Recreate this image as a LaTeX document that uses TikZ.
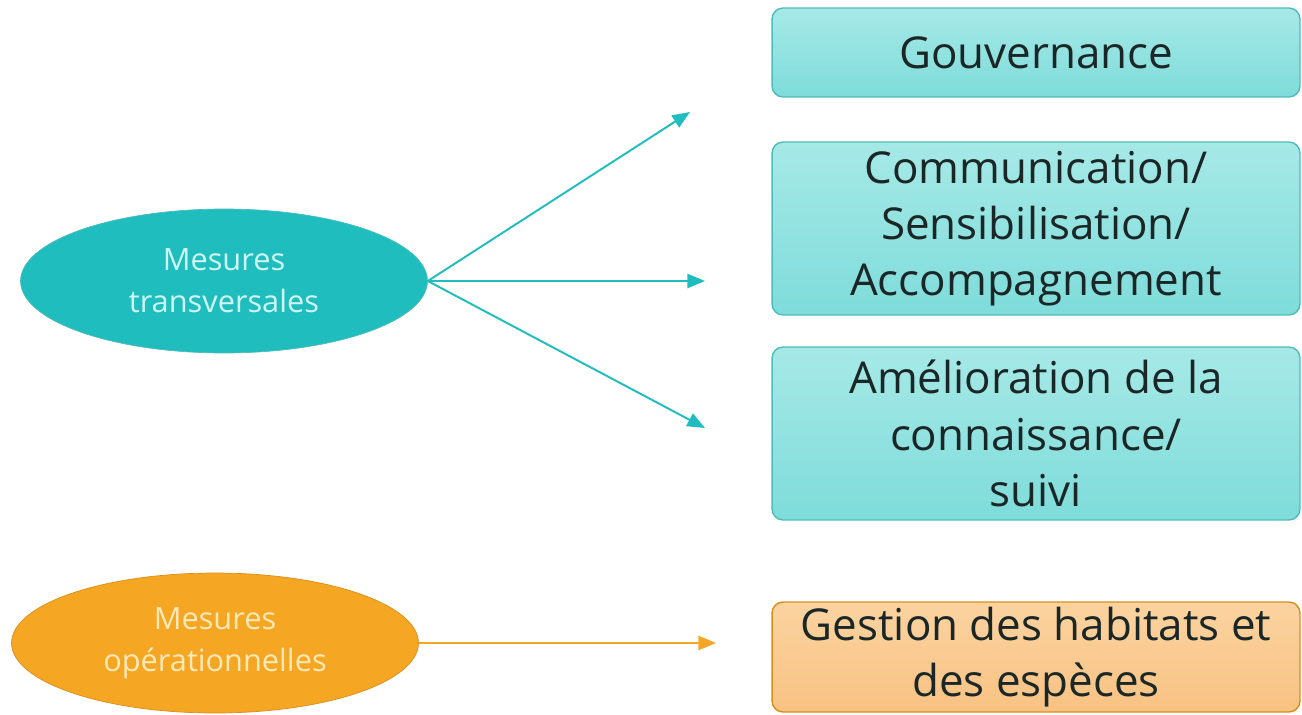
\documentclass[tikz,border=0pt]{standalone}
\usepackage{fontspec}
\setmainfont{Open Sans}
\usepackage{tikz}
\usetikzlibrary{shapes.geometric, arrows.meta, positioning}
\definecolor{tealdark}{HTML}{1FBDBD}
\definecolor{teallight}{HTML}{A6E9E7}
\definecolor{tealmid}{HTML}{7EDCDA}
\definecolor{tealedge}{HTML}{4DBDBB}
\definecolor{tealtext}{HTML}{CFF6F5}
\definecolor{orangedark}{HTML}{F5A623}
\definecolor{orangeedge}{HTML}{D98E1A}
\definecolor{orangelight}{HTML}{FBD3A0}
\definecolor{orangemid}{HTML}{F8C283}
\definecolor{orangetext}{HTML}{FCE9B8}
\definecolor{boxtext}{HTML}{1B2626}

\begin{document}
\begin{tikzpicture}[x=0.02cm, y=-0.02cm,
    >={Triangle[length=10pt, width=8pt]},
    mesure/.style={ellipse, minimum width=8.14cm, minimum height=2.88cm,
        align=center, font=\fontsize{17.5}{24}\selectfont, inner sep=0pt},
    tealbox/.style={draw=tealedge, line width=0.8pt, rounded corners=0.22cm,
        top color=teallight, bottom color=tealmid, text=boxtext,
        minimum width=10.56cm, align=center, inner sep=0pt,
        font=\fontsize{25}{32}\selectfont},
    orangebox/.style={tealbox, draw=orangeedge, top color=orangelight,
        bottom color=orangemid}]
    \useasboundingbox (0,0) rectangle (1302,714);

    % ellipses
    \node[mesure, fill=tealdark, draw=tealedge, text=tealtext] (transv) at (224,281) {Mesures\\transversales};
    \node[mesure, fill=orangedark, draw=orangeedge, text=orangetext, minimum height=2.8cm] (operat) at (215,643) {Mesures\\opérationnelles};

    % boxes on the right
    \node[tealbox, minimum height=1.78cm] (gouv) at (1036,52.5) {Gouvernance};
    \node[tealbox, minimum height=3.46cm] (comm) at (1036,228.5) {Communication/\\Sensibilisation/\\Accompagnement};
    \node[tealbox, minimum height=3.46cm] (amel) at (1036,433.5) {Amélioration de la\\connaissance/\\suivi};
    \node[orangebox, minimum height=2.2cm] (gest) at (1036,657) {Gestion des habitats et\\des espèces};

    % arrow ends
    \coordinate (tgouv) at (690,112);
    \coordinate (tcomm) at (705,281);
    \coordinate (tamel) at (705,428);
    \coordinate (tgest) at (716,643);

    \draw[->, tealdark, line width=1.1pt] (transv.east) -- (tgouv);
    \draw[->, tealdark, line width=1.1pt] (transv.east) -- (tcomm);
    \draw[->, tealdark, line width=1.1pt] (transv.east) -- (tamel);
    \draw[->, orangedark, line width=1.1pt] (operat.east) -- (tgest);
\end{tikzpicture}
\end{document}
